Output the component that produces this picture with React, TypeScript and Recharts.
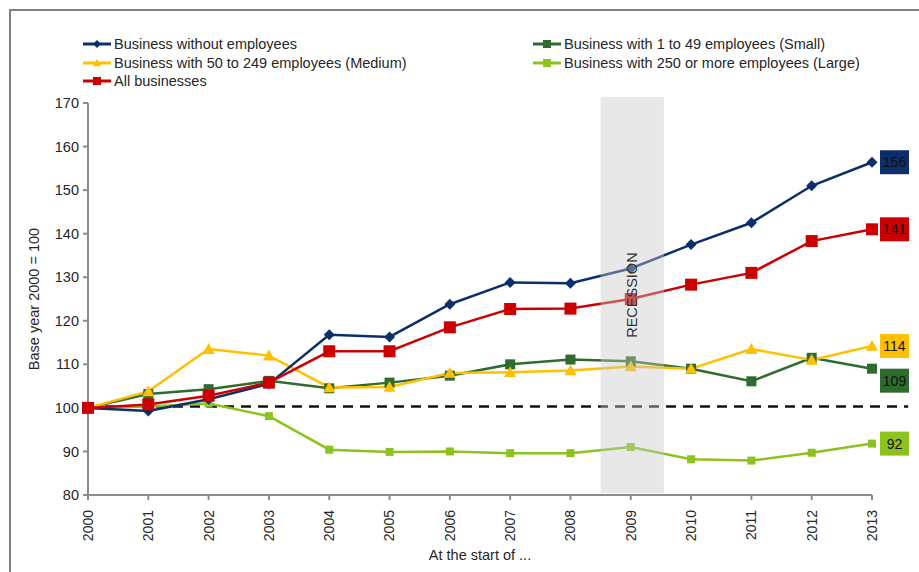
import React from "react";
import {
  LineChart,
  Line,
  XAxis,
  YAxis,
  ReferenceArea,
  ReferenceLine,
} from "recharts";

const years = [2000, 2001, 2002, 2003, 2004, 2005, 2006, 2007, 2008, 2009, 2010, 2011, 2012, 2013];
const withoutEmployees = [100, 99.3, 102, 105.5, 116.8, 116.3, 123.8, 128.8, 128.6, 132, 137.5, 142.5, 151, 156.4];
const small = [100, 103.2, 104.3, 106.2, 104.5, 105.8, 107.4, 110, 111.1, 110.7, 109, 106.1, 111.5, 109];
const medium = [100, 103.8, 113.5, 112, 104.7, 104.8, 108, 108.2, 108.6, 109.5, 109, 113.5, 111, 114.2];
const large = [100, 100.3, 101, 98.1, 90.4, 89.9, 90, 89.6, 89.6, 91, 88.2, 87.9, 89.7, 91.8];
const allBusinesses = [100, 100.8, 102.8, 105.8, 113, 113, 118.5, 122.7, 122.8, 125, 128.3, 131, 138.3, 141];
const yTicks = [80, 90, 100, 110, 120, 130, 140, 150, 160, 170];

const data = years.map((year, i) => ({
  year,
  withoutEmployees: withoutEmployees[i],
  small: small[i],
  medium: medium[i],
  large: large[i],
  allBusinesses: allBusinesses[i],
}));

const FONT = "'Liberation Sans', Arial, sans-serif";
const TEXT = "#262626";

type Shape = "diamond" | "triangle" | "square";

interface SeriesDef {
  key: string;
  name: string;
  color: string;
  shape: Shape;
  size: number;
  boxDy: number;
}

// drawing order: last one ends up on top
const series: SeriesDef[] = [
  { key: "large", name: "Business with 250 or more employees (Large)", color: "#8cc21e", shape: "square", size: 8, boxDy: 0 },
  { key: "small", name: "Business with 1 to 49 employees (Small)", color: "#2e6b2e", shape: "square", size: 10, boxDy: 12 },
  { key: "medium", name: "Business with 50 to 249 employees (Medium)", color: "#ffc000", shape: "triangle", size: 12, boxDy: 0 },
  { key: "withoutEmployees", name: "Business without employees", color: "#0c2f6b", shape: "diamond", size: 11, boxDy: 0 },
  { key: "allBusinesses", name: "All businesses", color: "#cc0000", shape: "square", size: 12, boxDy: 0 },
];

const Marker = ({ cx, cy, shape, size, color }: any) => {
  if (cx == null || cy == null) return null;
  const h = size / 2;
  if (shape === "diamond") {
    return <polygon points={`${cx},${cy - h} ${cx + h},${cy} ${cx},${cy + h} ${cx - h},${cy}`} fill={color} />;
  }
  if (shape === "triangle") {
    return <polygon points={`${cx},${cy - h} ${cx + h},${cy + h * 0.8} ${cx - h},${cy + h * 0.8}`} fill={color} />;
  }
  return <rect x={cx - h} y={cy - h} width={size} height={size} fill={color} />;
};

const XTick = ({ x, y, payload }: any) => (
  <text
    x={x}
    y={y}
    transform={`rotate(-90, ${x}, ${y})`}
    dx={-8}
    dy="0.35em"
    textAnchor="end"
    fontSize={14}
    fontFamily={FONT}
    fill={TEXT}
  >
    {payload.value}
  </text>
);

const endLabel = (s: SeriesDef) => (props: any) => {
  const { x, y, value, index } = props;
  if (index !== years.length - 1) return null;
  const bx = x + 8;
  const by = y - 12 + s.boxDy;
  return (
    <g>
      <rect x={bx} y={by} width={29} height={24} fill={s.color} />
      <text x={bx + 14.5} y={by + 12} dy="0.35em" textAnchor="middle" fontSize={14} fontFamily={FONT} fill="#111">
        {Math.round(value)}
      </text>
    </g>
  );
};

const legendCols = [
  [series[3], series[2], series[4]],
  [series[1], series[0]],
];

const LegendIcon = ({ s }: { s: SeriesDef }) => (
  <svg width={28} height={12} style={{ marginRight: 3 }}>
    <line x1={0} y1={6} x2={28} y2={6} stroke={s.color} strokeWidth={3} />
    <Marker cx={14} cy={6} shape={s.shape} size={8} color={s.color} />
  </svg>
);

export default function App() {
  return (
    <div style={{ position: "absolute", left: 0, top: 0, width: 919, height: 572, background: "#fff", fontFamily: FONT }}>
      <div
        style={{
          position: "absolute",
          left: 9,
          top: 9,
          width: 910,
          height: 563,
          borderLeft: "2px solid #7f7f7f",
          borderTop: "2px solid #7f7f7f",
        }}
      />
      {legendCols.map((col, ci) => (
        <div key={ci} style={{ position: "absolute", left: ci === 0 ? 83 : 533, top: 35 }}>
          {col.map((s) => (
            <div key={s.key} style={{ display: "flex", alignItems: "center", height: 18.5, fontSize: 14.5, color: TEXT }}>
              <LegendIcon s={s} />
              <span>{s.name}</span>
            </div>
          ))}
        </div>
      ))}
      <LineChart width={919} height={572} data={data} margin={{ top: 103, right: 47, bottom: 0, left: 28 }}>
        <XAxis
          dataKey="year"
          type="number"
          domain={[2000, 2013]}
          ticks={years}
          interval={0}
          height={77}
          tickSize={5}
          stroke="#8c8c8c"
          strokeWidth={2}
          tick={<XTick />}
          label={{ value: "At the start of ...", position: "insideBottom", offset: 12, fontSize: 14.5, fill: TEXT, fontFamily: FONT }}
        />
        <YAxis
          type="number"
          domain={[80, 170]}
          ticks={yTicks}
          width={60}
          tickSize={5}
          stroke="#8c8c8c"
          strokeWidth={2}
          tick={{ fontSize: 14.5, fill: TEXT, fontFamily: FONT, dx: -2 }}
          label={{
            value: "Base year 2000 = 100",
            angle: -90,
            position: "insideLeft",
            offset: 6,
            fontSize: 14.5,
            fill: TEXT,
            fontFamily: FONT,
            style: { textAnchor: "middle" },
          }}
        />
        <ReferenceLine
          segment={[{ x: 2000, y: 100.3 }, { x: 2013.6, y: 100.3 }]}
          stroke="#111"
          strokeWidth={2.5}
          strokeDasharray="10 7"
          ifOverflow="visible"
        />
        {series.map((s) => (
          <Line
            key={s.key}
            dataKey={s.key}
            name={s.name}
            stroke={s.color}
            strokeWidth={2.5}
            isAnimationActive={false}
            dot={(p: any) => <Marker key={p.index} cx={p.cx} cy={p.cy} shape={s.shape} size={s.size} color={s.color} />}
            activeDot={false}
            label={endLabel(s)}
          />
        ))}
        {/* recession band sits over the lines and fades them */}
        <ReferenceArea
          x1={2008.5}
          x2={2009.55}
          y1={80.4}
          y2={171.4}
          fill="#c8c8c8"
          fillOpacity={0.42}
          ifOverflow="visible"
          zIndex={1200}
          label={{ value: "RECESSION", angle: -90, position: "center", fontSize: 14.5, fill: "#333", fontFamily: FONT }}
        />
      </LineChart>
    </div>
  );
}
